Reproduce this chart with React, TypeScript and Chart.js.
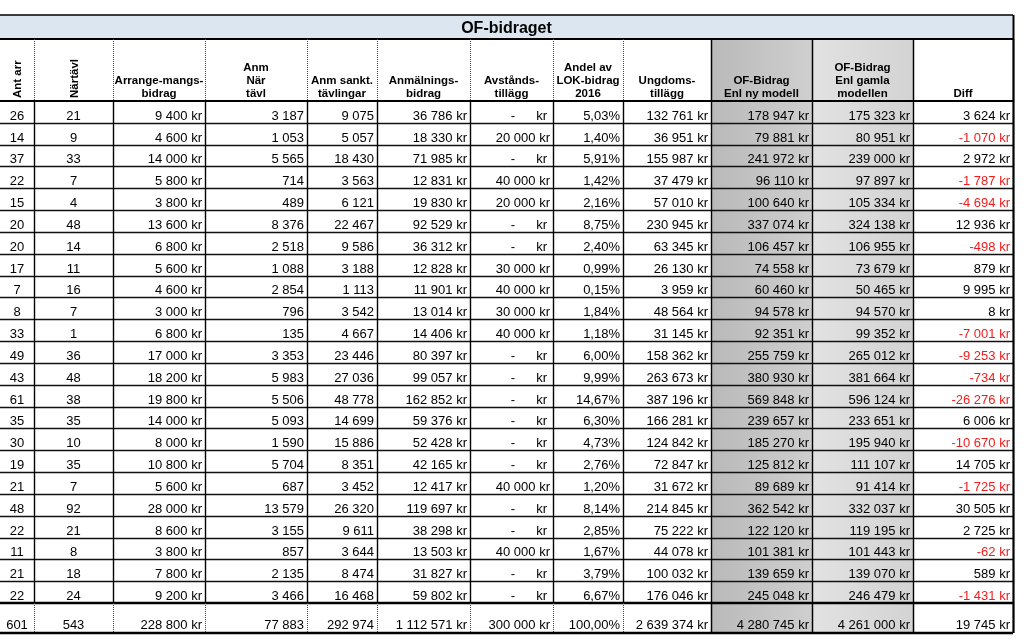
import { useEffect, useRef } from "react";
import { Chart, registerables } from "chart.js";
Chart.register(...registerables);

const TITLE = "OF-bidraget";
const HEADERS: string[][] = [
  ["Ant arr"],
  ["Närtävl"],
  ["Arrange-mangs-", "bidrag"],
  ["Anm", "När", "tävl"],
  ["Anm sankt.", "tävlingar"],
  ["Anmälnings-", "bidrag"],
  ["Avstånds-", "tillägg"],
  ["Andel av", "LOK-bidrag", "2016"],
  ["Ungdoms-", "tillägg"],
  ["OF-Bidrag", "Enl ny modell"],
  ["OF-Bidrag", "Enl gamla", "modellen"],
  ["Diff"],
];

const antArr = [26, 14, 37, 22, 15, 20, 20, 17, 7, 8, 33, 49, 43, 61, 35, 30, 19, 21, 48, 22, 11, 21, 22];
const nartavl = [21, 9, 33, 7, 4, 48, 14, 11, 16, 7, 1, 36, 48, 38, 35, 10, 35, 7, 92, 21, 8, 18, 24];
const arrangemangsbidrag = [9400, 4600, 14000, 5800, 3800, 13600, 6800, 5600, 4600, 3000, 6800, 17000, 18200, 19800, 14000, 8000, 10800, 5600, 28000, 8600, 3800, 7800, 9200];
const anmNarTavl = [3187, 1053, 5565, 714, 489, 8376, 2518, 1088, 2854, 796, 135, 3353, 5983, 5506, 5093, 1590, 5704, 687, 13579, 3155, 857, 2135, 3466];
const anmSanktTavlingar = [9075, 5057, 18430, 3563, 6121, 22467, 9586, 3188, 1113, 3542, 4667, 23446, 27036, 48778, 14699, 15886, 8351, 3452, 26320, 9611, 3644, 8474, 16468];
const anmalningsbidrag = [36786, 18330, 71985, 12831, 19830, 92529, 36312, 12828, 11901, 13014, 14406, 80397, 99057, 162852, 59376, 52428, 42165, 12417, 119697, 38298, 13503, 31827, 59802];
const avstandstillagg = [0, 20000, 0, 40000, 20000, 0, 0, 30000, 40000, 30000, 40000, 0, 0, 0, 0, 0, 0, 40000, 0, 0, 40000, 0, 0];
const andelLok = [5.03, 1.4, 5.91, 1.42, 2.16, 8.75, 2.4, 0.99, 0.15, 1.84, 1.18, 6.0, 9.99, 14.67, 6.3, 4.73, 2.76, 1.2, 8.14, 2.85, 1.67, 3.79, 6.67];
const ungdomstillagg = [132761, 36951, 155987, 37479, 57010, 230945, 63345, 26130, 3959, 48564, 31145, 158362, 263673, 387196, 166281, 124842, 72847, 31672, 214845, 75222, 44078, 100032, 176046];
const ofNyModell = [178947, 79881, 241972, 96110, 100640, 337074, 106457, 74558, 60460, 94578, 92351, 255759, 380930, 569848, 239657, 185270, 125812, 89689, 362542, 122120, 101381, 139659, 245048];
const ofGamlaModellen = [175323, 80951, 239000, 97897, 105334, 324138, 106955, 73679, 50465, 94570, 99352, 265012, 381664, 596124, 233651, 195940, 111107, 91414, 332037, 119195, 101443, 139070, 246479];
const diff = [3624, -1070, 2972, -1787, -4694, 12936, -498, 879, 9995, 8, -7001, -9253, -734, -26276, 6006, -10670, 14705, -1725, 30505, 2725, -62, 589, -1431];
const totals = [601, 543, 228800, 77883, 292974, 1112571, 300000, 100.0, 2639374, 4280745, 4261000, 19745];

const COLUMNS = [antArr, nartavl, arrangemangsbidrag, anmNarTavl, anmSanktTavlingar, anmalningsbidrag, avstandstillagg, andelLok, ungdomstillagg, ofNyModell, ofGamlaModellen, diff];
const KINDS = ["center", "center", "kr", "int", "int", "kr", "avst", "pct", "kr", "kr", "kr", "kr"];

// layout (scale units == pixels of the 1024x643 canvas)
const COL_EDGES = [0, 34, 113, 205, 307, 377, 470, 553, 623, 711, 812, 913, 1013];
const TITLE_TOP = 15;
const HEADER_TOP = 39;
const DATA_TOP = 101;
const DATA_BOTTOM = 603;
const TOTAL_BOTTOM = 633;

function fmtInt(n: number): string {
  const s = Math.abs(Math.round(n)).toString().replace(/\B(?=(\d{3})+(?!\d))/g, "\u00a0");
  return (n < 0 ? "-" : "") + s;
}

const tablePlugin = {
  id: "tablePlugin",
  afterDraw(chart: any) {
    const ctx: CanvasRenderingContext2D = chart.ctx;
    const xs = chart.scales.x;
    const ys = chart.scales.y;
    const px = (v: number) => xs.getPixelForValue(v);
    const py = (v: number) => ys.getPixelForValue(v);
    const nRows = antArr.length;
    const rowH = (DATA_BOTTOM - DATA_TOP) / nRows;
    const rowTop = (i: number) => py(DATA_TOP + i * rowH);
    const L = px(COL_EDGES[0]);
    const R = px(COL_EDGES[COL_EDGES.length - 1]);

    ctx.save();
    // title background
    ctx.fillStyle = "#dce6f1";
    ctx.fillRect(L, py(TITLE_TOP), R - L, py(HEADER_TOP) - py(TITLE_TOP));

    // shaded columns
    const g1 = ctx.createLinearGradient(px(COL_EDGES[9]), 0, px(COL_EDGES[10]), 0);
    g1.addColorStop(0, "#b9b9b9");
    g1.addColorStop(1, "#cfcfcf");
    ctx.fillStyle = g1;
    ctx.fillRect(px(COL_EDGES[9]), py(HEADER_TOP), px(COL_EDGES[10]) - px(COL_EDGES[9]), py(TOTAL_BOTTOM) - py(HEADER_TOP));
    const g2 = ctx.createLinearGradient(px(COL_EDGES[10]), 0, px(COL_EDGES[11]), 0);
    g2.addColorStop(0, "#e2e2e2");
    g2.addColorStop(1, "#d3d3d3");
    ctx.fillStyle = g2;
    ctx.fillRect(px(COL_EDGES[10]), py(HEADER_TOP), px(COL_EDGES[11]) - px(COL_EDGES[10]), py(TOTAL_BOTTOM) - py(HEADER_TOP));

    // lines
    const hline = (y: number, w: number, color = "#000") => {
      ctx.strokeStyle = color;
      ctx.lineWidth = w;
      ctx.setLineDash([]);
      ctx.beginPath();
      ctx.moveTo(L, y);
      ctx.lineTo(R, y);
      ctx.stroke();
    };
    const vline = (x: number, y0: number, y1: number, dotted: boolean, w = 1.5) => {
      ctx.strokeStyle = dotted ? "#444" : "#000";
      ctx.lineWidth = dotted ? 1 : w;
      ctx.setLineDash(dotted ? [1, 1] : []);
      ctx.beginPath();
      ctx.moveTo(Math.round(x) + 0.5, y0);
      ctx.lineTo(Math.round(x) + 0.5, y1);
      ctx.stroke();
    };

    for (let i = 1; i < nRows; i++) hline(Math.round(rowTop(i)) + 0.5, 1.4, "#111");
    hline(py(TITLE_TOP), 1.5);
    hline(py(HEADER_TOP), 2);
    hline(py(DATA_TOP), 2);
    hline(py(DATA_BOTTOM), 2.5);
    hline(py(TOTAL_BOTTOM), 2.5);

    for (let c = 1; c < COL_EDGES.length; c++) {
      const x = px(COL_EDGES[c]);
      const solidHead = c >= 9;
      vline(x, py(HEADER_TOP), py(DATA_TOP), !solidHead);
      vline(x, py(DATA_TOP), py(DATA_BOTTOM), false, 1.4);
      vline(x, py(DATA_BOTTOM), py(TOTAL_BOTTOM), !solidHead);
    }
    vline(R - 0.5, py(TITLE_TOP), py(TOTAL_BOTTOM), false, 2);

    // title
    ctx.fillStyle = "#000";
    ctx.font = "bold 16px 'Liberation Sans', Arial, sans-serif";
    ctx.textAlign = "center";
    ctx.textBaseline = "alphabetic";
    ctx.fillText(TITLE, (L + R) / 2, py(33));

    // headers
    ctx.font = "bold 11.5px 'Liberation Sans', Arial, sans-serif";
    HEADERS.forEach((lines, c) => {
      const cx = (px(COL_EDGES[c]) + px(COL_EDGES[c + 1])) / 2;
      if (c < 2) {
        ctx.save();
        ctx.translate(cx + 1, py(98));
        ctx.rotate(-Math.PI / 2);
        ctx.textAlign = "left";
        ctx.textBaseline = "middle";
        ctx.fillText(lines[0], 0, 0);
        ctx.restore();
        return;
      }
      ctx.textAlign = "center";
      ctx.textBaseline = "alphabetic";
      const n = lines.length;
      lines.forEach((ln, k) => {
        ctx.fillText(ln, cx, py(97 - (n - 1 - k) * 13));
      });
    });

    // cells
    ctx.font = "13px 'Liberation Sans', Arial, sans-serif";
    const drawCell = (c: number, v: number, baseY: number) => {
      const left = px(COL_EDGES[c]);
      const right = px(COL_EDGES[c + 1]);
      const kind = KINDS[c];
      ctx.fillStyle = v < 0 ? "#f01c1c" : "#000";
      ctx.textBaseline = "alphabetic";
      if (kind === "center") {
        ctx.textAlign = "center";
        ctx.fillText(String(v), (left + right) / 2, baseY);
      } else if (kind === "int") {
        ctx.textAlign = "right";
        ctx.fillText(fmtInt(v), right - 3, baseY);
      } else if (kind === "kr") {
        ctx.textAlign = "right";
        ctx.fillText(fmtInt(v) + " kr", right - 3, baseY);
      } else if (kind === "avst") {
        ctx.textAlign = "right";
        if (v === 0) {
          ctx.fillText("kr", right - 6, baseY);
          ctx.textAlign = "center";
          ctx.fillText("-", right - 40, baseY);
        } else {
          ctx.fillText(fmtInt(v) + " kr", right - 3, baseY);
        }
      } else if (kind === "pct") {
        ctx.textAlign = "right";
        ctx.fillText(v.toFixed(2).replace(".", ",") + "%", right - 3, baseY);
      }
    };
    for (let i = 0; i < nRows; i++) {
      const baseY = rowTop(i + 1) - 3;
      COLUMNS.forEach((col, c) => drawCell(c, col[i], baseY));
    }
    totals.forEach((v, c) => drawCell(c, v, py(TOTAL_BOTTOM) - 4.5));
    ctx.restore();
  },
};

export default function App() {
  const ref = useRef<HTMLCanvasElement | null>(null);
  useEffect(() => {
    if (!ref.current) return;
    const chart = new Chart(ref.current, {
      type: "scatter",
      data: { datasets: [] },
      options: {
        animation: false,
        responsive: false,
        layout: { padding: 0 },
        plugins: { legend: { display: false }, tooltip: { enabled: false } },
        scales: {
          x: { type: "linear", min: 0, max: 1024, display: false },
          y: { type: "linear", min: 0, max: 643, reverse: true, display: false },
        },
      },
      plugins: [tablePlugin],
    });
    return () => chart.destroy();
  }, []);
  return (
    <div style={{ position: "absolute", left: 0, top: 0, width: 1024, height: 643, background: "#fff" }}>
      <canvas ref={ref} width={1024} height={643} style={{ display: "block", width: 1024, height: 643 }} />
    </div>
  );
}
